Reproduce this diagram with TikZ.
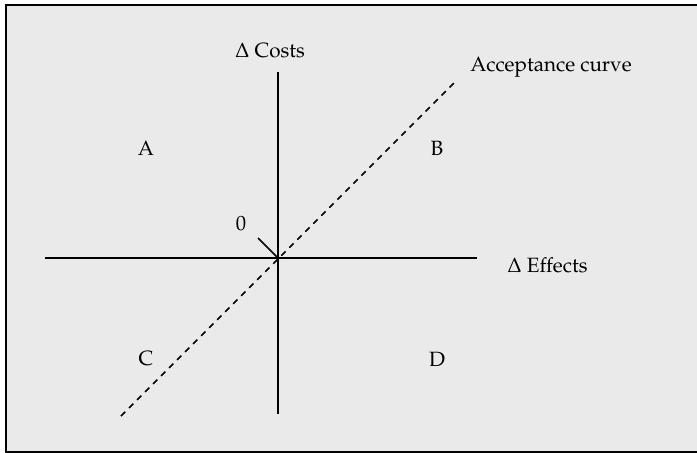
\documentclass[tikz,border=0pt]{standalone}
\usepackage[T1]{fontenc}
\usepackage{mathpazo}
\definecolor{panel}{HTML}{EAEAEA}
\tikzset{
  axis/.style={line width=1.2pt},
  accline/.style={line width=1.1pt, dash pattern=on 4.5pt off 4pt},
  lbl/.style={inner sep=0pt, font=\fontsize{15.5}{18}\selectfont},
}
\begin{document}
\begin{tikzpicture}[x=0.75pt,y=-0.75pt]
\useasboundingbox (0,0) rectangle (697,453);
\clip (0,0) rectangle (697,453);
\draw[line width=1.5pt, fill=panel] (6,5) rectangle (710,452);
% axes
\coordinate (o) at (278,258);
\coordinate (xl) at (45,258);
\coordinate (xr) at (477,258);
\coordinate (yt) at (278,72);
\coordinate (yb) at (278,414);
\coordinate (d1) at (121,416);
\coordinate (d2) at (455,82);
\coordinate (tk) at (258,238);
\draw[axis] (xl) -- (xr);
\draw[axis] (yt) -- (yb);
\draw[accline] (d1) -- (d2);
\draw[line width=1.1pt] (tk) -- (o);
% labels
\node[lbl] (zero) at (241,224) {0};
\node[lbl] (costs) at (270,50) {$\Delta$ Costs};
\node[lbl, anchor=west] (acc) at (470,67) {Acceptance curve};
\node[lbl, anchor=west] (eff) at (507,265) {$\Delta$ Effects};
\node[lbl] (A) at (146,148) {A};
\node[lbl] (B) at (437,148) {B};
\node[lbl] (C) at (146,359) {C};
\node[lbl] (D) at (437,359) {D};
\end{tikzpicture}
\end{document}
